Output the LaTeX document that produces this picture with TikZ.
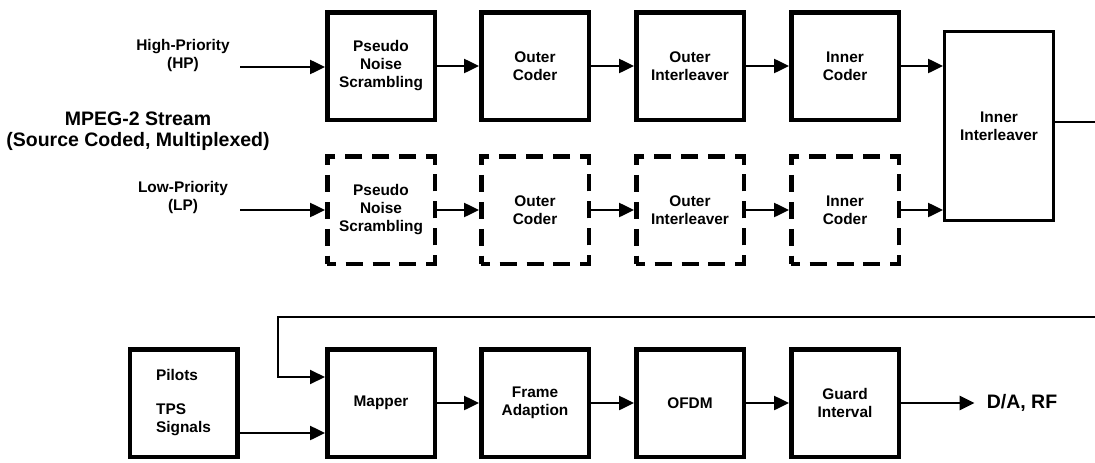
\documentclass[tikz,border=0pt]{standalone}
\usepackage{fontspec}
\setmainfont{Liberation Sans}
\usetikzlibrary{arrows.meta}

\begin{document}
\begin{tikzpicture}[x=1pt, y=-1pt, >={Triangle[length=15pt,width=14pt]},
    block/.style={draw, line width=4.5pt, minimum width=107.5pt, minimum height=107.5pt,
        align=center, font=\fontsize{15.4}{18}\selectfont\bfseries},
    optblock/.style={block, dash pattern=on 17pt off 9.9pt, dash phase=8.5pt},
    arrow/.style={->, line width=2.5pt},
    prio/.style={align=center, font=\fontsize{15.4}{18}\selectfont\bfseries},
    title/.style={align=center, font=\fontsize{19.5}{21}\selectfont\bfseries}]

        \useasboundingbox (0,0) rectangle (1095,463);

        \node[prio] at (183,56) (hplabel) {High-Priority\\(HP)};
        \node[title] at (138,131) (mpeg) {MPEG-2 Stream\\(Source Coded, Multiplexed)};
        \node[prio] at (183,198) (lplabel) {Low-Priority\\(LP)};

        \coordinate (hpin) at (240,67);
        \coordinate (lpin) at (240,210);

        % high priority branch
        \node[block] at (381,66) (pn1) {Pseudo\\Noise\\Scrambling};
        \node[block] at (535,66) (oc1) {Outer\\Coder};
        \node[block] at (690,66) (oi1) {Outer\\Interleaver};
        \node[block] at (845,66) (ic1) {Inner\\Coder};

        % low priority branch
        \node[optblock] at (381,210) (pn2) {Pseudo\\Noise\\Scrambling};
        \node[optblock] at (535,210) (oc2) {Outer\\Coder};
        \node[optblock] at (690,210) (oi2) {Outer\\Interleaver};
        \node[optblock] at (845,210) (ic2) {Inner\\Coder};

        \node[block, line width=3pt, minimum width=109pt, minimum height=189pt] at (999,126) (ii) {Inner\\Interleaver};

        % output stage
        \node[block, align=left] at (183.5,403) (pilots) {Pilots\\[16pt]TPS\\Signals};
        \node[block] at (381,403) (mapper) {Mapper};
        \node[block] at (535,403) (frame) {Frame\\Adaption};
        \node[block] at (690,403) (ofdm) {OFDM};
        \node[block] at (845,403) (guard) {Guard\\Interval};
        \node[title, inner sep=12pt] at (1022,403) (dara) {D/A, RF};

        \coordinate (fbout) at (1095,122);
        \coordinate (fbin) at (1095,317);
        \coordinate (fbturn) at (278,317);

        \draw[arrow] (hpin) -- (hpin -| pn1.west);
        \draw[arrow] (pn1) -- (oc1);
        \draw[arrow] (oc1) -- (oi1);
        \draw[arrow] (oi1) -- (ic1);
        \draw[arrow] (ic1.east) -- (ic1.east -| ii.west);

        \draw[arrow] (lpin) -- (lpin -| pn2.west);
        \draw[arrow] (pn2) -- (oc2);
        \draw[arrow] (oc2) -- (oi2);
        \draw[arrow] (oi2) -- (ic2);
        \draw[arrow] (ic2.east) -- (ic2.east -| ii.west);

        \draw[line width=2pt] ([yshift=4pt]ii.east) -- (fbout);
        \draw[arrow, line width=2pt] (fbin) -- (fbturn) |- ([yshift=26pt]mapper.west);
        \draw[arrow] ([yshift=-30pt]pilots.east) -- ([yshift=-30pt]mapper.west);
        \draw[arrow] (mapper) -- (frame);
        \draw[arrow] (frame) -- (ofdm);
        \draw[arrow] (ofdm) -- (guard);
        \draw[arrow] (guard) -- (dara);

    \end{tikzpicture}
\end{document}
